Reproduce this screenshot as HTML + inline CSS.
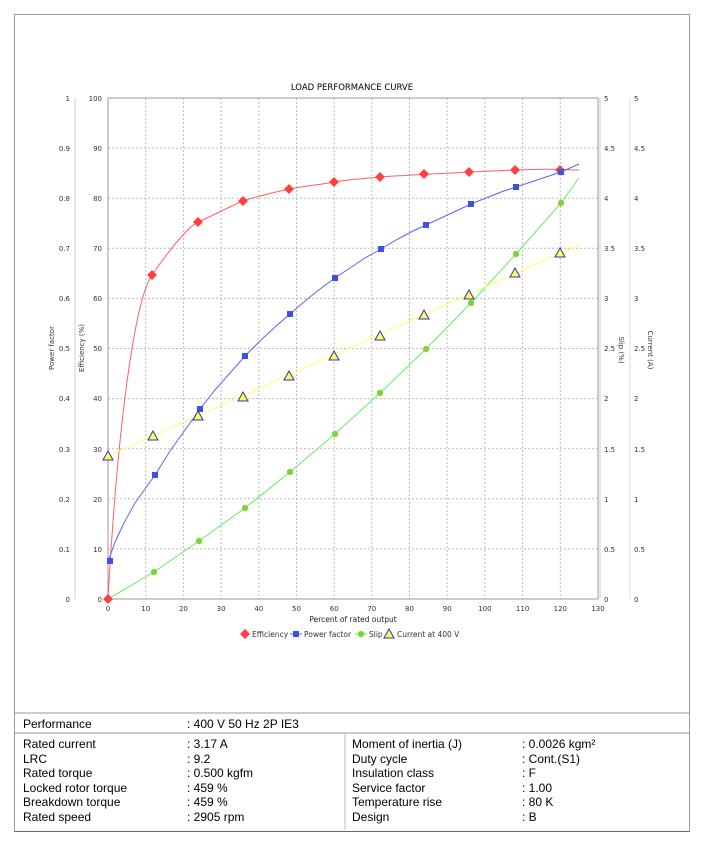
<!DOCTYPE html>
<html><head><meta charset="utf-8"><style>
body{margin:0;background:#fff;width:707px;height:846px;position:relative;font-family:"Liberation Sans",Arial,sans-serif;}
.t{position:absolute;font-size:12px;color:#000;white-space:nowrap;}
</style></head><body>
<div style="position:absolute;left:14px;top:14px;width:674px;height:816px;border:1px solid #999;border-bottom:1px solid #666;"></div>
<svg width="707" height="846" style="position:absolute;left:0;top:0" font-family="DejaVu Sans, sans-serif">
<g stroke="#bbb" stroke-dasharray="2,2" stroke-width="1">
<line x1="108" y1="548.9" x2="598" y2="548.9"/><line x1="108" y1="498.8" x2="598" y2="498.8"/><line x1="108" y1="448.7" x2="598" y2="448.7"/><line x1="108" y1="398.6" x2="598" y2="398.6"/><line x1="108" y1="348.5" x2="598" y2="348.5"/><line x1="108" y1="298.4" x2="598" y2="298.4"/><line x1="108" y1="248.3" x2="598" y2="248.3"/><line x1="108" y1="198.2" x2="598" y2="198.2"/><line x1="108" y1="148.1" x2="598" y2="148.1"/>
<line x1="145.7" y1="98" x2="145.7" y2="599"/><line x1="183.4" y1="98" x2="183.4" y2="599"/><line x1="221.1" y1="98" x2="221.1" y2="599"/><line x1="258.8" y1="98" x2="258.8" y2="599"/><line x1="296.5" y1="98" x2="296.5" y2="599"/><line x1="334.2" y1="98" x2="334.2" y2="599"/><line x1="371.8" y1="98" x2="371.8" y2="599"/><line x1="409.5" y1="98" x2="409.5" y2="599"/><line x1="447.2" y1="98" x2="447.2" y2="599"/><line x1="484.9" y1="98" x2="484.9" y2="599"/><line x1="522.6" y1="98" x2="522.6" y2="599"/><line x1="560.3" y1="98" x2="560.3" y2="599"/>
</g>
<rect x="108" y="98" width="490" height="501" fill="none" stroke="#999"/>
<line x1="75" y1="98" x2="75" y2="599" stroke="#ccc"/>
<line x1="600" y1="98" x2="600" y2="599" stroke="#ccc"/>
<line x1="630" y1="98" x2="630" y2="599" stroke="#ddd"/>
<g font-size="7" fill="#333">
<g text-anchor="end">
<text x="70" y="101">1</text><text x="70" y="151">0.9</text><text x="70" y="201">0.8</text><text x="70" y="251">0.7</text><text x="70" y="301">0.6</text><text x="70" y="351">0.5</text><text x="70" y="401">0.4</text><text x="70" y="452">0.3</text><text x="70" y="502">0.2</text><text x="70" y="552">0.1</text><text x="70" y="602">0</text>
<text x="102" y="101">100</text><text x="102" y="151">90</text><text x="102" y="201">80</text><text x="102" y="251">70</text><text x="102" y="301">60</text><text x="102" y="351">50</text><text x="102" y="401">40</text><text x="102" y="452">30</text><text x="102" y="502">20</text><text x="102" y="552">10</text><text x="102" y="602">0</text>
</g>
<text x="604" y="101">5</text><text x="604" y="151">4.5</text><text x="604" y="201">4</text><text x="604" y="251">3.5</text><text x="604" y="301">3</text><text x="604" y="351">2.5</text><text x="604" y="401">2</text><text x="604" y="452">1.5</text><text x="604" y="502">1</text><text x="604" y="552">0.5</text><text x="604" y="602">0</text>
<text x="634" y="101">5</text><text x="634" y="151">4.5</text><text x="634" y="201">4</text><text x="634" y="251">3.5</text><text x="634" y="301">3</text><text x="634" y="351">2.5</text><text x="634" y="401">2</text><text x="634" y="452">1.5</text><text x="634" y="502">1</text><text x="634" y="552">0.5</text><text x="634" y="602">0</text>
<g text-anchor="middle">
<text x="108" y="611">0</text><text x="145.7" y="611">10</text><text x="183.4" y="611">20</text><text x="221.1" y="611">30</text><text x="258.8" y="611">40</text><text x="296.5" y="611">50</text><text x="334.2" y="611">60</text><text x="371.8" y="611">70</text><text x="409.5" y="611">80</text><text x="447.2" y="611">90</text><text x="484.9" y="611">100</text><text x="522.6" y="611">110</text><text x="560.3" y="611">120</text><text x="598" y="611">130</text>
</g>
<text x="0" y="0" transform="translate(54,348) rotate(-90)" text-anchor="middle">Power factor</text>
<text x="0" y="0" transform="translate(84,348) rotate(-90)" text-anchor="middle">Efficiency (%)</text>
<text x="0" y="0" transform="translate(619,350) rotate(90)" text-anchor="middle">Slip (%)</text>
<text x="0" y="0" transform="translate(648,350) rotate(90)" text-anchor="middle">Current (A)</text>
</g>
<text x="352" y="90" font-size="8.5" text-anchor="middle" fill="#000">LOAD PERFORMANCE CURVE</text>
<text x="353" y="622" font-size="7.5" text-anchor="middle" fill="#222">Percent of rated output</text>
<g fill="none" stroke-width="1">
<path d="M108,599 C118,420 135,300 152,275 S190,225 198,222 S235,204 243,201 S280,191 289,189 S325,184 334,182 S370,178 380,177 S470,172 515,170 S560,170 579,170" stroke="#ff6060"/>
<polyline points="108,561 116,540 125,521 135,503 145,489 155,475 170,451 185,430 200,409 215,390 230,373 245,356 260,341 275,327 290,314 305,301 320,289 335,278 350,268 365,258 381,249 396,240 411,232 426,225 441,218 456,211 471,204 486,198 501,192 516,187 531,182 546,177 561,172 579,164" stroke="#6060ff"/>
<path d="M108,599 L154,572 L199,541 L245,508 L290,472 L335,434 L380,393 L426,349 L471,303 L516,254 L561,203 L579,178" stroke="#60ee60"/>
<path d="M108,456 L579,245" stroke="#ffff60"/>
</g>
<g fill="#ff4040">
<path d="M108,594l5,5l-5,5l-5,-5z"/><path d="M152,270l5,5l-5,5l-5,-5z"/><path d="M198,217l5,5l-5,5l-5,-5z"/><path d="M243,196l5,5l-5,5l-5,-5z"/><path d="M289,184l5,5l-5,5l-5,-5z"/><path d="M334,177l5,5l-5,5l-5,-5z"/><path d="M380,172l5,5l-5,5l-5,-5z"/><path d="M424,169l5,5l-5,5l-5,-5z"/><path d="M469,167l5,5l-5,5l-5,-5z"/><path d="M515,165l5,5l-5,5l-5,-5z"/><path d="M560,165l5,5l-5,5l-5,-5z"/>
</g>
<g fill="#4050e0">
<rect x="107" y="558" width="6" height="6"/><rect x="152" y="472" width="6" height="6"/><rect x="197" y="406" width="6" height="6"/><rect x="242" y="353" width="6" height="6"/><rect x="287" y="311" width="6" height="6"/><rect x="332" y="275" width="6" height="6"/><rect x="378" y="246" width="6" height="6"/><rect x="423" y="222" width="6" height="6"/><rect x="468" y="201" width="6" height="6"/><rect x="513" y="184" width="6" height="6"/><rect x="558" y="169" width="6" height="6"/>
</g>
<g fill="#60e040" stroke="#f0b040" stroke-width="0.6">
<circle cx="154" cy="572" r="3"/><circle cx="199" cy="541" r="3"/><circle cx="245" cy="508" r="3"/><circle cx="290" cy="472" r="3"/><circle cx="335" cy="434" r="3"/><circle cx="380" cy="393" r="3"/><circle cx="426" cy="349" r="3"/><circle cx="471" cy="303" r="3"/><circle cx="516" cy="254" r="3"/><circle cx="561" cy="203" r="3"/>
</g>
<g fill="#ffff50" stroke="#3030c0" stroke-width="1">
<path d="M108,451l5,9h-10z"/><path d="M153,431l5,9h-10z"/><path d="M198,411l5,9h-10z"/><path d="M243,392l5,9h-10z"/><path d="M289,371l5,9h-10z"/><path d="M334,351l5,9h-10z"/><path d="M380,331l5,9h-10z"/><path d="M424,310l5,9h-10z"/><path d="M469,290l5,9h-10z"/><path d="M515,268l5,9h-10z"/><path d="M560,248l5,9h-10z"/>
</g>
<g font-size="7.5" fill="#333">
<path d="M245,629l5,5l-5,5l-5,-5z" fill="#ff4040"/><text x="252" y="637">Efficiency</text>
<line x1="290" y1="634" x2="302" y2="634" stroke="#6060ff"/><rect x="293" y="631" width="6" height="6" fill="#4050e0"/><text x="304" y="637">Power factor</text>
<line x1="355" y1="634" x2="367" y2="634" stroke="#60ee60"/><circle cx="361" cy="634" r="3" fill="#60e040" stroke="#f0b040" stroke-width="0.6"/><text x="369" y="637">Slip</text>
<path d="M389,629l5,9h-10z" fill="#ffff50" stroke="#3030c0"/><text x="397" y="637">Current at 400 V</text>
</g>
<line x1="14" y1="713" x2="689" y2="713" stroke="#999"/>
<line x1="14" y1="733" x2="689" y2="733" stroke="#999"/>
<line x1="345" y1="733" x2="345" y2="830" stroke="#bbb"/>
</svg>
<div class="t" style="left:23px;top:717px">Performance</div><div class="t" style="left:187px;top:717px">: 400 V 50 Hz 2P IE3</div>
<div class="t" style="left:23px;top:737px;line-height:14.5px">Rated current<br>LRC<br>Rated torque<br>Locked rotor torque<br>Breakdown torque<br>Rated speed</div>
<div class="t" style="left:187px;top:737px;line-height:14.5px">: 3.17 A<br>: 9.2<br>: 0.500 kgfm<br>: 459 %<br>: 459 %<br>: 2905 rpm</div>
<div class="t" style="left:352px;top:737px;line-height:14.5px">Moment of inertia (J)<br>Duty cycle<br>Insulation class<br>Service factor<br>Temperature rise<br>Design</div>
<div class="t" style="left:522px;top:737px;line-height:14.5px">: 0.0026 kgm²<br>: Cont.(S1)<br>: F<br>: 1.00<br>: 80 K<br>: B</div>
</body></html>
